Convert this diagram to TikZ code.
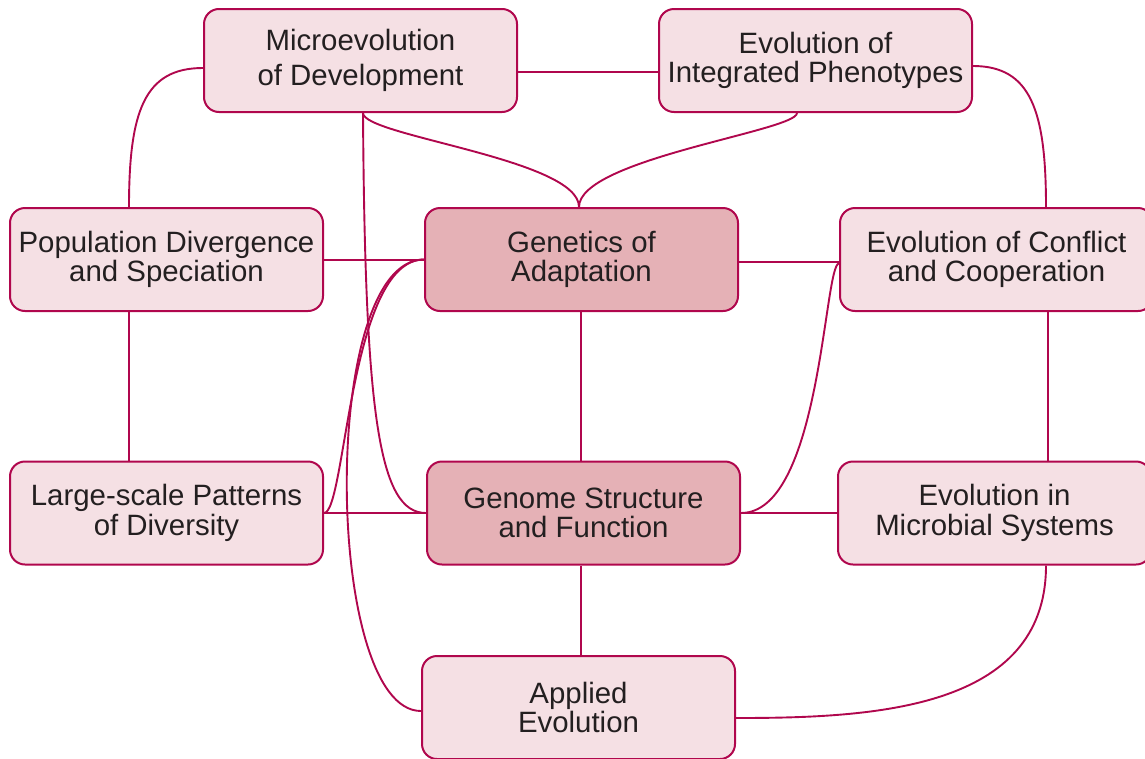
\documentclass[tikz,border=0pt]{standalone}
\usepackage{fontspec}
\setmainfont{Liberation Sans}
\definecolor{edge}{HTML}{B0074D}
\definecolor{lightfill}{HTML}{F5E0E4}
\definecolor{darkfill}{HTML}{E5B1B6}
\definecolor{txt}{HTML}{231F20}
\tikzset{
  topic/.style={draw=edge, line width=2pt, fill=lightfill, rounded corners=15pt,
    minimum width=313pt, minimum height=103pt, align=center, text=txt,
    font=\fontsize{29.4}{29.5}\selectfont, inner sep=0pt},
  core/.style={topic, fill=darkfill},
  link/.style={draw=edge, line width=1.9pt}
}
\begin{document}
\begin{tikzpicture}[x=1pt,y=-1pt]
\useasboundingbox (0,0) rectangle (1145,758);
\clip (0,0) rectangle (1145,758);
\node[topic] (micro) at (360.5,60.5) {Microevolution\\[6pt]of Development};
\node[topic] (integ) at (815.5,60.5) {Evolution of\\Integrated Phenotypes};
\node[topic] (popdiv) at (166.5,259.5) {Population Divergence\\and Speciation};
\node[core] (genetics) at (581.5,259.5) {Genetics of\\Adaptation};
\node[topic] (conflict) at (996.5,259.5) {Evolution of Conflict\\and Cooperation};
\node[topic] (large) at (166.5,513) {Large-scale Patterns\\of Diversity};
\node[core] (genome) at (583.5,513) {Genome Structure\\and Function};
\node[topic] (microbial) at (994.5,513) {Evolution in\\Microbial Systems};
\node[topic] (applied) at (578.5,707.5) {Applied\\Evolution};

% straight links
\draw[link] ([yshift=-11.5pt]micro.east) -- ([yshift=-11.5pt]integ.west);
\draw[link] ([yshift=-0.5pt]popdiv.east) -- ([yshift=-0.5pt]genetics.west);
\draw[link] ([yshift=-2.5pt]genetics.east) -- ([yshift=-2.5pt]conflict.west);
\draw[link] (large.east) -- (genome.west);
\draw[link] (genome.east) -- (microbial.west);
\draw[link] ([xshift=-0.5pt]genetics.south) -- ([xshift=-0.5pt]genetics.south |- genome.north);
\draw[link] ([xshift=-2.5pt]genome.south) -- ([xshift=-2.5pt]genome.south |- applied.north);
\draw[link] ([xshift=-37.5pt]popdiv.south) -- ([xshift=-37.5pt]large.north);
\draw[link] ([xshift=51.5pt]conflict.south) -- ([xshift=51.5pt]conflict.south |- microbial.north);

% curved links
\draw[link] ([yshift=-7.5pt]micro.west) .. controls +(-59,0) and +(0,-95) .. ([xshift=-37.5pt]popdiv.north);
\draw[link] ([yshift=-5.5pt]integ.east) .. controls +(58,0) and +(0,-96) .. ([xshift=49.5pt]conflict.north);
\draw[link] ([xshift=2.5pt]micro.south) .. controls +(0,23) and +(0,-48) .. ([xshift=-2.5pt]genetics.north);
\draw[link] ([xshift=-18.5pt]integ.south) .. controls +(0,18) and +(0,-48) .. ([xshift=-2.5pt]genetics.north);
\draw[link] ([xshift=2.5pt]micro.south) .. controls +(2,303) and +(-47,0) .. (genome.west);
\draw[link] (genetics.west) .. controls +(-75,0) and +(22,0) .. (large.east);
\draw[link] (genetics.west) .. controls +(-105,0) and +(-97,0) .. ([yshift=-3.5pt]applied.west);
\draw[link] ([yshift=-4pt]conflict.west) .. controls +(-15,0) and +(80,0) .. (genome.east);
\draw[link] ([xshift=51.5pt]microbial.south) .. controls +(0,145) and +(135,0) .. ([yshift=-10.5pt]applied.east);
\end{tikzpicture}
\end{document}
